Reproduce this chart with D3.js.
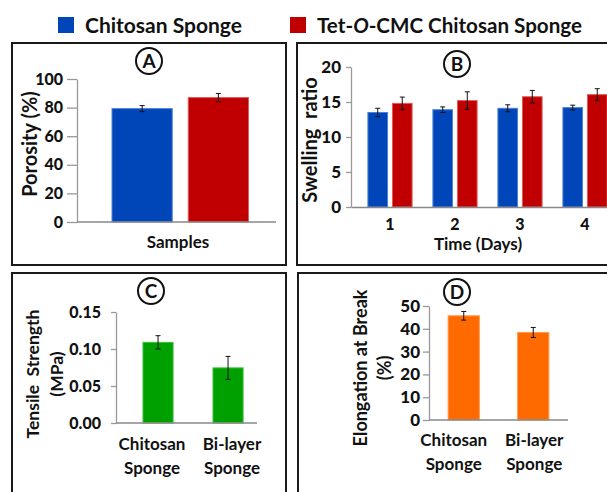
<!DOCTYPE html>
<html><head><meta charset="utf-8">
<script src="https://cdn.jsdelivr.net/npm/d3@7"></script>
<style>
body{margin:0;background:#fff}
svg{display:block}
text{font-family:Lato,"Open Sans",sans-serif;fill:#111}
</style>
</head><body>
<svg id="chart" width="607" height="492"></svg>
<script>
// ---------- data ----------
const seriesNames = ["Chitosan Sponge", "Tet-O-CMC Chitosan Sponge"];
const seriesColors = ["#0046B8", "#C00000"];
const seriesEdge = ["#4f82d6", "#e05a5a"];

const porosityMean = [79.3, 87.0];
const porosityErr = [2.1, 2.9];
const porosityTicks = [0, 20, 40, 60, 80, 100];

const days = ["1", "2", "3", "4"];
const swellChitosan = [13.5, 13.9, 14.1, 14.2];
const swellChitosanErr = [0.6, 0.4, 0.5, 0.35];
const swellTet = [14.8, 15.2, 15.75, 16.05];
const swellTetErr = [0.9, 1.25, 0.9, 0.85];
const swellTicks = [0, 5, 10, 15, 20];

const mechCategories = ["Chitosan Sponge", "Bi-layer Sponge"];
const tensile = [0.109, 0.0745];
const tensileErr = [0.009, 0.0155];
const tensileTicks = [0, 0.05, 0.10, 0.15];

const elongation = [45.7, 38.4];
const elongationErr = [1.9, 2.2];
const elongationTicks = [0, 10, 20, 30, 40, 50];

// ---------- drawing ----------
const svg = d3.select("#chart");

const boxes = [
  {x: 12, y: 43, w: 274, h: 222},
  {x: 297, y: 43, w: 330, h: 222},
  {x: 12, y: 273, w: 274, h: 240},
  {x: 298, y: 273, w: 330, h: 240}
];
svg.selectAll("rect.box").data(boxes).join("rect").attr("class", "box")
  .attr("x", d => d.x).attr("y", d => d.y).attr("width", d => d.w).attr("height", d => d.h)
  .attr("fill", "none").attr("stroke", "#1a1a1a").attr("stroke-width", 2);

// legend
const leg = svg.append("g");
const legX = [58, 290];
seriesNames.forEach((n, i) => {
  leg.append("rect").attr("x", legX[i]).attr("y", 17).attr("width", 16).attr("height", 16)
    .attr("fill", seriesColors[i]);
  const t = leg.append("text").attr("x", legX[i] + 27).attr("y", 33)
    .attr("font-size", 21).attr("font-weight", "bold");
  if (n.includes("-O-")) {
    const parts = n.split("-O-");
    t.append("tspan").text(parts[0] + "-");
    t.append("tspan").attr("font-style", "italic").text("O");
    t.append("tspan").text("-" + parts[1]);
    t.attr("font-size", 20.6);
  } else t.text(n);
});

function circleLabel(cx, cy, letter) {
  svg.append("circle").attr("cx", cx).attr("cy", cy).attr("r", 13)
    .attr("fill", "#fff").attr("stroke", "#111").attr("stroke-width", 2);
  svg.append("text").attr("x", cx).attr("y", cy + 7).attr("text-anchor", "middle")
    .attr("font-family", "Liberation Sans, Arial, sans-serif")
    .attr("font-size", 19).attr("font-weight", "bold").text(letter);
}

function styleAxis(g, fs) {
  g.select(".domain").attr("stroke", "#999").attr("stroke-width", 1.3);
  g.selectAll(".tick line").attr("stroke", "#999").attr("stroke-width", 1.3);
  g.selectAll(".tick text").attr("font-family", "Lato, sans-serif")
    .attr("font-size", fs).attr("font-weight", "900").attr("fill", "#111");
}

function errorBars(g, items) {
  const eb = g.append("g").attr("stroke", "#111").attr("stroke-width", 1);
  items.forEach(d => {
    eb.append("line").attr("x1", d.x).attr("x2", d.x).attr("y1", d.y1).attr("y2", d.y2);
    eb.append("line").attr("x1", d.x - 2.5).attr("x2", d.x + 2.5).attr("y1", d.y1).attr("y2", d.y1);
    eb.append("line").attr("x1", d.x - 2.5).attr("x2", d.x + 2.5).attr("y1", d.y2).attr("y2", d.y2);
  });
}

// ----- Panel A -----
{
  const y = d3.scaleLinear().domain([0, 100]).range([222, 79]);
  const x = d3.scaleBand().domain(seriesNames).range([77, 276]).paddingInner(0.21).paddingOuter(0.41).align(0.56);
  const g = svg.append("g");
  g.selectAll("rect").data(seriesNames).join("rect")
    .attr("x", d => x(d)).attr("width", x.bandwidth())
    .attr("y", (d, i) => y(porosityMean[i])).attr("height", (d, i) => y(0) - y(porosityMean[i]))
    .attr("fill", (d, i) => seriesColors[i]).attr("stroke", (d, i) => seriesEdge[i]).attr("stroke-width", 1);
  errorBars(g, seriesNames.map((d, i) => ({x: x(d) + x.bandwidth() / 2,
    y1: y(porosityMean[i] + porosityErr[i]), y2: y(porosityMean[i] - porosityErr[i])})));
  const ya = g.append("g").attr("transform", "translate(77,0)")
    .call(d3.axisLeft(y).tickValues(porosityTicks).tickSize(10).tickPadding(4).tickSizeOuter(0));
  styleAxis(ya, 16);
  g.append("line").attr("x1", 77).attr("x2", 276).attr("y1", y(0)).attr("y2", y(0))
    .attr("stroke", "#888").attr("stroke-width", 1.3);
  g.append("text").attr("transform", "translate(37,144) rotate(-90)").attr("text-anchor", "middle")
    .attr("font-size", 20).attr("font-weight", "bold").text("Porosity (%)");
  g.append("text").attr("x", 178).attr("y", 248).attr("text-anchor", "middle")
    .attr("font-size", 17).attr("font-weight", "bold").text("Samples");
  circleLabel(149, 61, "A");
}

// ----- Panel B -----
{
  const y = d3.scaleLinear().domain([0, 20]).range([207, 67]);
  const x0 = d3.scaleBand().domain(days).range([351, 624]).paddingInner(0.32).paddingOuter(0.26);
  const x1 = d3.scaleBand().domain([0, 1]).range([0, x0.bandwidth()]).paddingInner(0.2);
  const means = [swellChitosan, swellTet];
  const errs = [swellChitosanErr, swellTetErr];
  const g = svg.append("g");
  const ya = g.append("g").attr("transform", "translate(351,0)")
    .call(d3.axisLeft(y).tickValues(swellTicks).tickSize(5).tickPadding(5).tickSizeOuter(0));
  styleAxis(ya, 17);
  const items = [];
  days.forEach((d, di) => {
    [0, 1].forEach(s => {
      const v = means[s][di];
      g.append("rect").attr("x", x0(d) + x1(s)).attr("width", x1.bandwidth())
        .attr("y", y(v)).attr("height", y(0) - y(v))
        .attr("fill", seriesColors[s]).attr("stroke", seriesEdge[s]).attr("stroke-width", 1);
      items.push({x: x0(d) + x1(s) + x1.bandwidth() / 2, y1: y(v + errs[s][di]), y2: y(v - errs[s][di])});
    });
  });
  errorBars(g, items);
  const xa = g.append("g").attr("transform", "translate(0,207)")
    .call(d3.axisBottom(x0).tickSize(0).tickPadding(12));
  xa.select(".domain").attr("stroke", "#888").attr("stroke-width", 1.3);
  xa.selectAll(".tick text").attr("font-family", "Lato, sans-serif").attr("font-size", 16)
    .attr("font-weight", "900").attr("fill", "#111");
  g.append("text").attr("transform", "translate(317,140) rotate(-90)").attr("text-anchor", "middle")
    .attr("font-size", 20).attr("font-weight", "bold").attr("xml:space", "preserve").text("Swelling  ratio");
  g.append("text").attr("x", 478).attr("y", 250).attr("text-anchor", "middle")
    .attr("font-size", 17).attr("font-weight", "bold").text("Time (Days)");
  circleLabel(457, 64, "B");
}

function mechPanel(o) {
  const y = d3.scaleLinear().domain(o.domain).range([o.y0, o.y1]);
  const x = d3.scaleBand().domain(mechCategories).range([o.ax, o.axEnd])
    .paddingInner(o.pad).paddingOuter(o.po).align(o.align);
  const g = svg.append("g");
  g.selectAll("rect").data(mechCategories).join("rect")
    .attr("x", d => x(d)).attr("width", x.bandwidth())
    .attr("y", (d, i) => y(o.vals[i])).attr("height", (d, i) => y(0) - y(o.vals[i]))
    .attr("fill", o.color).attr("stroke", o.edge).attr("stroke-width", 1);
  errorBars(g, mechCategories.map((d, i) => ({x: x(d) + x.bandwidth() / 2,
    y1: y(o.vals[i] + o.errs[i]), y2: y(o.vals[i] - o.errs[i])})));
  const ya = g.append("g").attr("transform", `translate(${o.ax},0)`)
    .call(d3.axisLeft(y).tickValues(o.ticks).tickFormat(o.fmt).tickSize(o.tick).tickPadding(o.tp).tickSizeOuter(0));
  styleAxis(ya, o.fs);
  g.append("line").attr("x1", o.ax).attr("x2", o.axEnd).attr("y1", y(0)).attr("y2", y(0))
    .attr("stroke", "#888").attr("stroke-width", 1.3);
  mechCategories.forEach((c, ci) => {
    const words = c.split(" ");
    words.forEach((w, k) => {
      g.append("text").attr("x", x(c) + x.bandwidth() / 2 + o.lblShift[ci]).attr("y", o.lblY + k * 24)
        .attr("text-anchor", "middle").attr("font-size", 17).attr("font-weight", "bold").text(w);
    });
  });
  o.titles.forEach((t, k) => {
    g.append("text").attr("transform", `translate(${o.titleX[k]},${o.titleY}) rotate(-90)`)
      .attr("text-anchor", "middle").attr("font-size", o.tfs).attr("font-weight", "bold")
      .attr("xml:space", "preserve").text(t);
  });
  circleLabel(o.cx, o.cy, o.letter);
}

mechPanel({domain: [0, 0.15], y0: 423, y1: 312, ax: 116, axEnd: 257, pad: 0.57, po: 0.292, align: 0.66,
  vals: tensile, errs: tensileErr, ticks: tensileTicks, fmt: d3.format(".2f"),
  tick: 5, tp: 10, fs: 16, color: "#00A000", edge: "#3cc03c", lblY: 450, lblShift: [-6, 4],
  titles: ["Tensile  Strength", "(MPa)"], titleX: [39, 63], titleY: 374, tfs: 17.5,
  cx: 151, cy: 291, letter: "C"});

mechPanel({domain: [0, 50], y0: 420, y1: 306, ax: 429, axEnd: 568, pad: 0.55, po: 0.275, align: 0.5,
  vals: elongation, errs: elongationErr, ticks: elongationTicks, fmt: d3.format("d"),
  tick: 6, tp: 3, fs: 17, color: "#FF6A00", edge: "#ff9a50", lblY: 446, lblShift: [-10, 1],
  titles: ["Elongation at Break", "(%)"], titleX: [367, 391], titleY: 368, tfs: 18,
  cx: 457, cy: 292, letter: "D"});
</script>
</body></html>
